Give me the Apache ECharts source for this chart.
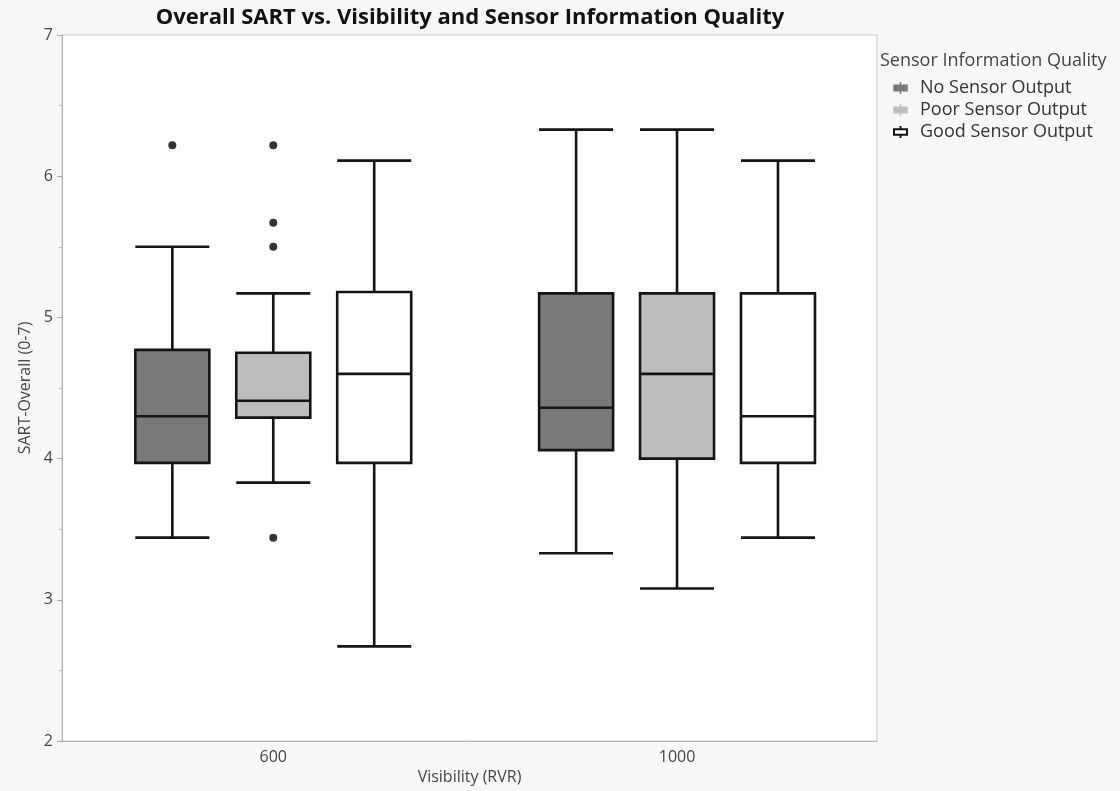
<!DOCTYPE html>
<html>
<head>
<meta charset="utf-8">
<script src="https://cdn.jsdelivr.net/npm/echarts@6/dist/echarts.min.js"></script>
<style>
  html, body { margin: 0; padding: 0; background: #f7f7f7; }
  #chart { width: 1120px; height: 791px; }
</style>
</head>
<body>
<div id="chart"></div>
<script>
// Visibility groups on the x axis and the sensor quality levels.
const visibility = ['600', '1000'];
const sensors = ['No Sensor Output', 'Poor Sensor Output', 'Good Sensor Output'];

// Box stats per sensor level, one row per visibility: [min, Q1, median, Q3, max]
const noSensorBoxes = [
  [3.44, 3.97, 4.30, 4.77, 5.50],
  [3.33, 4.06, 4.36, 5.17, 6.33],
];
const poorSensorBoxes = [
  [3.83, 4.29, 4.41, 4.75, 5.17],
  [3.08, 4.00, 4.60, 5.17, 6.33],
];
const goodSensorBoxes = [
  [2.67, 3.97, 4.60, 5.18, 6.11],
  [3.44, 3.97, 4.30, 5.17, 6.11],
];

// Outlier points per sensor level, one list per visibility
const noSensorOutliers = [[6.22], []];
const poorSensorOutliers = [[6.22, 5.67, 5.50, 3.44], []];
const goodSensorOutliers = [[], []];

const yTicks = [2, 3, 4, 5, 6, 7];

const boxSets = [noSensorBoxes, poorSensorBoxes, goodSensorBoxes];
const outlierSets = [noSensorOutliers, poorSensorOutliers, goodSensorOutliers];
const fills = ['#797979', '#bdbdbd', '#ffffff'];

const FONT = '"Open Sans", "Noto Sans", sans-serif';
const LINE = '#141414';
const TEXT = '#444';

// Each box sits in its own slot; groups are 4 slots apart (one empty slot
// between them). Group centres land on slots 1 and 5.
const slotOf = (gi, si) => gi * 4 + si;
const groupCentre = (gi) => gi * 4 + 1;
const xMin = -1.093;
const xMax = 6.981;

const chart = echarts.init(document.getElementById('chart'), null, { renderer: 'canvas' });

// One value x axis per sensor level so the boxplot layout does not
// shift the series sideways against each other.
const xAxes = sensors.map((s, si) => ({
  type: 'value',
  gridIndex: 0,
  min: xMin,
  max: xMax,
  show: si === 0,
  splitLine: { show: false },
  axisLine: { show: true, onZero: false, lineStyle: { color: '#b4b4b4', width: 1 } },
  axisTick: { show: false },
  axisLabel: {
    show: si === 0,
    customValues: visibility.map((v, gi) => groupCentre(gi)),
    formatter: (v) => {
      const gi = visibility.findIndex((_, i) => Math.abs(groupCentre(i) - v) < 1e-6);
      return gi >= 0 ? visibility[gi] : '';
    },
    color: TEXT,
    fontFamily: FONT,
    fontSize: 16,
    margin: 8,
  },
  name: si === 0 ? 'Visibility (RVR)' : '',
  nameLocation: 'middle',
  nameGap: 28,
  nameTextStyle: { color: TEXT, fontFamily: FONT, fontSize: 16 },
}));

const boxSeries = sensors.map((name, si) => ({
  name,
  type: 'boxplot',
  xAxisIndex: si,
  yAxisIndex: 0,
  boxWidth: [74, 74],
  silent: true,
  z: 3,
  itemStyle: { color: fills[si], borderColor: LINE, borderWidth: 2.6 },
  emphasis: { disabled: true },
  data: boxSets[si].map((b, gi) => [slotOf(gi, si), ...b]),
}));

const outlierSeries = sensors.map((name, si) => ({
  name: name + ' outliers',
  type: 'scatter',
  xAxisIndex: si,
  yAxisIndex: 0,
  symbol: 'circle',
  symbolSize: 8,
  silent: true,
  z: 4,
  itemStyle: { color: '#000' },
  data: outlierSets[si].flatMap((list, gi) => list.map((v) => [slotOf(gi, si), v])),
}));

const legendIcon = 'path://M6,0 L6,3 M0,3 L12,3 L12,8 L0,8 Z M6,8 L6,11';

chart.setOption({
  animation: false,
  backgroundColor: '#f7f7f7',
  title: [
    {
      text: 'Overall SART vs. Visibility and Sensor Information Quality',
      left: 465,
      textAlign: 'center',
      top: 2,
      textStyle: { color: '#111', fontFamily: FONT, fontSize: 22, fontWeight: 'bold' },
    },
    {
      text: 'Sensor Information Quality',
      left: 875,
      top: 47,
      textStyle: { color: TEXT, fontFamily: FONT, fontSize: 18, fontWeight: 'normal' },
    },
  ],
  legend: {
    orient: 'vertical',
    left: 888,
    top: 74,
    itemWidth: 13,
    itemHeight: 12,
    itemGap: 4,
    selectedMode: false,
    textStyle: { color: '#333', fontFamily: FONT, fontSize: 18, padding: [0, 0, 0, 8] },
    data: sensors.map((name, si) => ({
      name,
      icon: legendIcon,
      itemStyle: {
        color: fills[si],
        borderColor: si === 2 ? LINE : fills[si],
        borderWidth: si === 2 ? 2 : 1.5,
      },
    })),
  },
  grid: {
    left: 62,
    right: 243,
    top: 35,
    bottom: 50,
    show: true,
    backgroundColor: '#ffffff',
    borderColor: '#c8c8c8',
    borderWidth: 1,
  },
  xAxis: xAxes,
  yAxis: {
    type: 'value',
    min: yTicks[0],
    max: yTicks[yTicks.length - 1],
    interval: 1,
    axisLine: { show: true, onZero: false, lineStyle: { color: '#b4b4b4' } },
    axisTick: { show: true, length: 5, lineStyle: { color: '#aaa' } },
    minorTick: { show: true, splitNumber: 2, length: 3, lineStyle: { color: '#bbb' } },
    splitLine: { show: false },
    axisLabel: { color: TEXT, fontFamily: FONT, fontSize: 16, margin: 9 },
    name: 'SART-Overall (0-7)',
    nameLocation: 'middle',
    nameGap: 26,
    nameTextStyle: { color: TEXT, fontFamily: FONT, fontSize: 16 },
  },
  series: [...boxSeries, ...outlierSeries],
});
</script>
</body>
</html>
